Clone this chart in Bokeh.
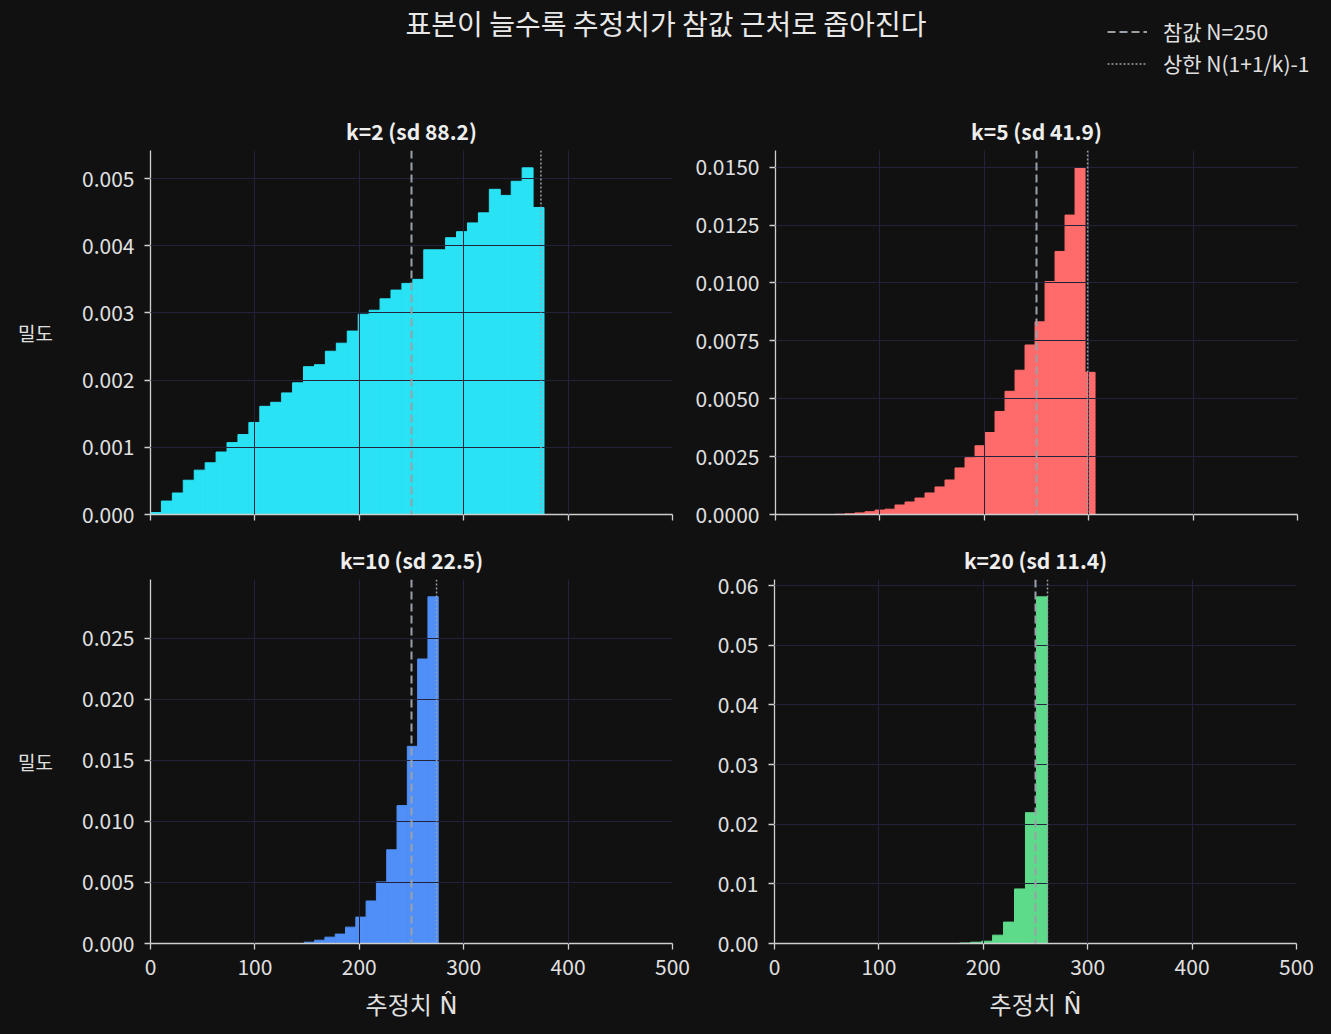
import numpy as np
from bokeh.plotting import figure
from bokeh.models import (Range1d, Span, FixedTicker, NumeralTickFormatter, Label,
                          Legend, LegendItem, GlobalInlineStyleSheet)
from bokeh.layouts import column, row
from bokeh.embed import file_html
from bokeh.resources import INLINE

# ---------------- data ----------------
N_TRUE = 250
ks = [2, 5, 10, 20]
sds = [88.2, 41.9, 22.5, 11.4]

k2_bin_start, k2_bin_width = 0.0, 10.47
k2_density = [0.00003, 0.00020, 0.00032, 0.00051, 0.00066, 0.00077, 0.00093, 0.00107,
              0.00119, 0.00137, 0.00161, 0.00167, 0.00181, 0.00196, 0.00220, 0.00223,
              0.00243, 0.00255, 0.00273, 0.00298, 0.00304, 0.00321, 0.00334, 0.00344,
              0.00350, 0.00394, 0.00394, 0.00412, 0.00421, 0.00434, 0.00449, 0.00484,
              0.00475, 0.00496, 0.00516, 0.00457]

k5_bin_start, k5_bin_width = 57.0, 9.58
k5_density = [0.00001, 0.00003, 0.00007, 0.00012, 0.00019, 0.00023, 0.00041, 0.00054,
              0.00071, 0.00093, 0.00119, 0.00149, 0.00201, 0.00245, 0.00297, 0.00354,
              0.00445, 0.00532, 0.00623, 0.00732, 0.00832, 0.01006, 0.01136, 0.01293,
              0.01497, 0.00614]

k10_bin_start, k10_bin_width = 147.3, 9.87
k10_density = [0.00011, 0.00027, 0.00052, 0.00077, 0.00134, 0.00216, 0.00348, 0.00504,
               0.00767, 0.01129, 0.01614, 0.02329, 0.02838]

k20_bin_start, k20_bin_width = 177.4, 10.5
k20_density = [0.00008, 0.00022, 0.00039, 0.00140, 0.00359, 0.00915, 0.02194, 0.05814]

x_ticks = [0, 100, 200, 300, 400, 500]
k2_yticks = [0, 0.001, 0.002, 0.003, 0.004, 0.005]
k5_yticks = [0, 0.0025, 0.005, 0.0075, 0.01, 0.0125, 0.015]
k10_yticks = [0, 0.005, 0.01, 0.015, 0.02, 0.025]
k20_yticks = [0, 0.01, 0.02, 0.03, 0.04, 0.05, 0.06]

suptitle = "표본이 늘수록 추정치가 참값 근처로 좁아진다"
legend_true = "참값 N=250"
legend_upper = "상한 N(1+1/k)-1"
y_label = "밀도"
x_label = "추정치 N\u0302"

# ---------------- style ----------------
BG = "#111111"
FONT = "Noto Sans CJK KR"
XLABEL_FONT = "DejaVu Sans, Noto Sans CJK KR"
GRID = "#22233a"
SPINE = "#cfcfcf"
TXT = "#e0e0e0"
REF = "#9aa0a8"
COLORS = ["#29E3F5", "#FF6B6B", "#4F8FF7", "#5DDB8B"]


def make_panel(k, sd, start, width, dens, color, yticks, yfmt, is_left, is_bottom):
    dens = np.asarray(dens)
    edges = start + width * np.arange(len(dens) + 1)
    p = figure(frame_width=522, frame_height=364,
               x_range=Range1d(0, 500), y_range=Range1d(0, dens.max() * 1.05),
               output_backend="svg", toolbar_location=None,
               min_border_left=150 if is_left else 82,
               min_border_right=20 if is_left else 35,
               min_border_top=35 if is_bottom else 50,
               min_border_bottom=90 if is_bottom else 24,
               background_fill_color=BG, border_fill_color=BG,
               outline_line_color=None)
    p.quad(left=edges[:-1], right=edges[1:], bottom=0, top=dens,
           fill_color=color, line_color=color, line_width=1)

    p.title.text = f"k={k} (sd {sd})"
    p.title.align = "center"
    p.title.text_font = FONT
    p.title.text_font_size = "21px"
    p.title.text_font_style = "bold"
    p.title.text_color = "#eeeeee"
    p.title.standoff = 9

    p.xaxis.ticker = FixedTicker(ticks=x_ticks, minor_ticks=[])
    p.yaxis.ticker = FixedTicker(ticks=yticks, minor_ticks=[])
    p.yaxis.formatter = NumeralTickFormatter(format=yfmt)
    p.xgrid.ticker = FixedTicker(ticks=x_ticks, minor_ticks=[])
    p.ygrid.ticker = FixedTicker(ticks=yticks, minor_ticks=[])
    p.grid.grid_line_color = GRID
    p.grid.grid_line_width = 1
    p.grid.level = "guide"

    for ax in (p.xaxis[0], p.yaxis[0]):
        ax.axis_line_color = SPINE
        ax.axis_line_width = 1.3
        ax.major_tick_line_color = SPINE
        ax.major_tick_line_width = 1.3
        ax.major_tick_out = 6
        ax.major_tick_in = 0
        ax.minor_tick_line_color = None
        ax.major_label_text_color = TXT
        ax.major_label_text_font = FONT
        ax.major_label_text_font_size = "21px"
        ax.axis_label_text_font = FONT
        ax.axis_label_text_color = TXT
        ax.axis_label_text_font_style = "normal"
    p.xaxis.major_label_standoff = 9
    p.yaxis.major_label_standoff = 10

    if not is_bottom:
        # shared x axis: ticks only, no labels
        p.xaxis.major_label_overrides = {t: "" for t in x_ticks}
        p.xaxis.major_label_text_font_size = "1px"
        p.xaxis.major_label_standoff = 0
    else:
        p.xaxis.axis_label = x_label
        p.xaxis.axis_label_text_font = XLABEL_FONT
        p.xaxis.axis_label_text_font_size = "24px"
        p.xaxis.axis_label_standoff = 14
    if is_left:
        p.yaxis.axis_label = y_label
        p.yaxis.axis_label_text_font_size = "19px"
        p.yaxis.axis_label_standoff = 26
        try:
            p.yaxis.axis_label_orientation = "horizontal"
        except Exception:
            pass

    p.add_layout(Span(location=N_TRUE, dimension="height", line_color=REF,
                      line_width=2, line_dash="8 4", level="overlay"))
    p.add_layout(Span(location=N_TRUE * (1 + 1 / k) - 1, dimension="height",
                      line_color=REF, line_width=1.5, line_dash="2 2",
                      level="overlay"))
    return p


tl = make_panel(ks[0], sds[0], k2_bin_start, k2_bin_width, k2_density, COLORS[0],
                k2_yticks, "0.000", True, False)
tr = make_panel(ks[1], sds[1], k5_bin_start, k5_bin_width, k5_density, COLORS[1],
                k5_yticks, "0.0000", False, False)
bl = make_panel(ks[2], sds[2], k10_bin_start, k10_bin_width, k10_density, COLORS[2],
                k10_yticks, "0.000", True, True)
br = make_panel(ks[3], sds[3], k20_bin_start, k20_bin_width, k20_density, COLORS[3],
                k20_yticks, "0.00", False, True)

# header with suptitle and legend
hdr = figure(width=1331, height=100, x_range=Range1d(0, 1), y_range=Range1d(0, 1),
             x_axis_type=None, y_axis_type=None, min_border=0,
             output_backend="svg", toolbar_location=None,
             background_fill_color=BG, border_fill_color=BG, outline_line_color=None)
hdr.grid.visible = False
hdr.add_layout(Label(x=665.5, y=78, x_units="screen", y_units="screen", text=suptitle,
                     text_align="center", text_baseline="middle", text_font=FONT,
                     text_font_size="28px", text_color="#e8e8e8"))
# legend-only line renderers (no visible data)
r_true = hdr.line(x=[np.nan, np.nan], y=[np.nan, np.nan], line_color=REF,
                  line_width=2, line_dash="8 4")
r_up = hdr.line(x=[np.nan, np.nan], y=[np.nan, np.nan], line_color=REF,
                line_width=1.5, line_dash="2 2")
legend = Legend(items=[LegendItem(label=legend_true, renderers=[r_true]),
                       LegendItem(label=legend_upper, renderers=[r_up])],
                location=(1107, 22), orientation="vertical",
                background_fill_alpha=0, border_line_color=None,
                label_text_color=TXT, label_text_font=FONT, label_text_font_size="21px",
                glyph_width=40, glyph_height=29, label_height=29, spacing=2,
                padding=0, margin=0, label_standoff=16)
hdr.add_layout(legend)

p = column(hdr, row(tl, tr, spacing=0), row(bl, br, spacing=0), spacing=0,
           stylesheets=[GlobalInlineStyleSheet(
               css="html, body {margin:0; padding:0; background:#111111; overflow:hidden;}")])

open("out.html", "w").write(file_html(p, INLINE))
